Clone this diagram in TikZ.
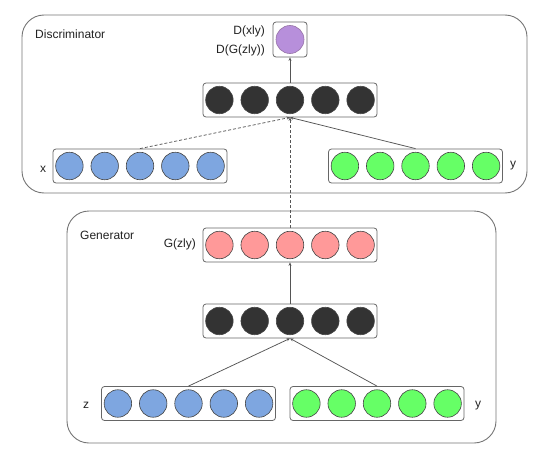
\documentclass[tikz,border=0pt]{standalone}
\usepackage{fontspec}
\setmainfont{Liberation Sans}
\usetikzlibrary{arrows.meta}
\definecolor{ublue}{HTML}{7EA6E0}
\definecolor{ugreen}{HTML}{66FF66}
\definecolor{ured}{HTML}{FF9999}
\definecolor{udark}{HTML}{333333}
\definecolor{upurple}{HTML}{B78FDB}
\definecolor{upurpleedge}{HTML}{9673A6}
\definecolor{edgegray}{HTML}{555555}
\definecolor{boxgray}{HTML}{666666}
\definecolor{txt}{HTML}{222222}
\tikzset{
  layerbox/.style={draw=boxgray, rounded corners=3pt, minimum width=174pt, minimum height=34pt, inner sep=0pt, line width=0.8pt},
  unit/.style={circle, draw=edgegray!80!black, line width=0.6pt, minimum size=27.5pt, inner sep=0pt},
  group/.style={draw=boxgray!90, line width=0.9pt, rounded corners=22pt},
  lab/.style={font=\fontsize{12}{14}\selectfont, text=txt, inner sep=0pt},
  conn/.style={draw=edgegray, line width=0.75pt, -{Stealth[length=3.5pt,width=3pt]}},
  dashconn/.style={conn, dash pattern=on 3pt off 2pt},
}
\newcommand\layerrow[4]{%
  \node[layerbox] (#1) at (#2,#3) {};
  \foreach \k in {1,...,5}{\node[unit, fill=#4, xshift={(\k-3)*35.3pt}] (#1-\k) at (#1) {};}
}
\begin{document}
\begin{tikzpicture}[x=1pt,y=-1pt]
\useasboundingbox (0,0) rectangle (544,463);
% group frames
\node[group, minimum width=505pt, minimum height=178pt, inner sep=0pt] (disc) at (274.5,104) {};
\node[group, minimum width=429pt, minimum height=232pt, inner sep=0pt] (gen) at (281.5,327) {};
\node[lab, anchor=west] (disclab) at (35,34) {Discriminator};
\node[lab, anchor=west] (genlab) at (80,235) {Generator};
% discriminator layers
\layerrow{dd}{290}{100}{udark}
\layerrow{dx}{140}{166}{ublue}
\layerrow{dy}{415.5}{166}{ugreen}
\node[draw=boxgray, rounded corners=3pt, line width=0.8pt, minimum width=34pt, minimum height=35pt, inner sep=0pt] (pbox) at (290,39.5) {};
\node[unit, fill=upurple, draw=upurpleedge, minimum size=28pt] (pout) at (pbox) {};
\node[lab, anchor=east] (dxy) at (265,31) {D(xly)};
\node[lab, anchor=east] (dgz) at (265,50) {D(G(zly))};
\node[lab] (xlab) at (43,169) {x};
\node[lab] (ylab1) at (513,166) {y};
% generator layers
\layerrow{gr}{290}{245}{ured}
\layerrow{gd}{290}{321}{udark}
\layerrow{gz}{188.5}{403.5}{ublue}
\layerrow{gy}{377}{403.5}{ugreen}
\node[lab, anchor=east] (gzy) at (196,244) {G(zly)};
\node[lab] (zlab) at (86,405) {z};
\node[lab] (ylab2) at (478,406) {y};
% connectors
\draw[conn] (dd.north) -- (pbox.south);
\draw[dashconn] (dx.north) -- (dd.south);
\draw[conn] (dy.north) -- (dd.south);
\draw[dashconn] (gr.north) -- (dd.south);
\draw[conn] (gd.north) -- (gr.south);
\draw[conn] (gz.north) -- (gd.south);
\draw[conn] (gy.north) -- (gd.south);
\end{tikzpicture}
\end{document}
